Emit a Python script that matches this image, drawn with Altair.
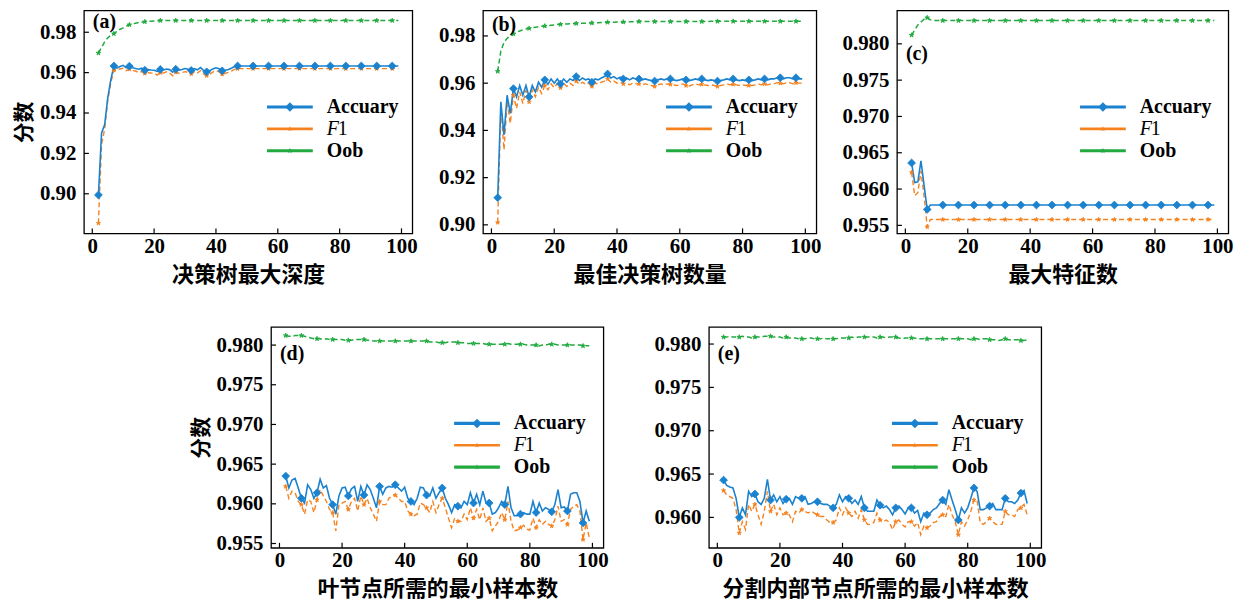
import altair as alt
import pandas as pd

SERIF = "Liberation Serif"
CJK = "Noto Sans CJK SC"
X_TICKS = [0, 20, 40, 60, 80, 100]
X_DOMAIN = [-2.7, 103.5]
COLORS = {"Accuary": "#1a82cf", "F1": "#f5821f", "Oob": "#22aa40"}
STAR = ("M0,-1L0.225,-0.31L0.951,-0.309L0.363,0.118L0.588,0.809L0,0.382"
        "L-0.588,0.809L-0.363,0.118L-0.951,-0.309L-0.225,-0.31Z")

# ---------------- (a) 决策树最大深度 ----------------
a_acc = [0.8994, 0.9300, 0.9342, 0.9474, 0.9565, 0.9633, 0.9622, 0.9630, 0.9636, 0.9624,
         0.9632, 0.9624, 0.9620, 0.9617, 0.9622, 0.9612, 0.9615, 0.9613, 0.9612, 0.9606,
         0.9616, 0.9613, 0.9618, 0.9615, 0.9602, 0.9617, 0.9612, 0.9615, 0.9620, 0.9617,
         0.9611, 0.9620, 0.9614, 0.9625, 0.9611, 0.9604, 0.9610, 0.9618, 0.9624, 0.9619,
         0.9609, 0.9612, 0.9616, 0.9622, 0.9630] + [0.9633] * 53
a_f1 = [0.8854, 0.9243, 0.9320, 0.9460, 0.9550, 0.9612, 0.9610, 0.9618, 0.9622, 0.9610,
        0.9617, 0.9610, 0.9608, 0.9600, 0.9605, 0.9596, 0.9600, 0.9598, 0.9597, 0.9588,
        0.9600, 0.9598, 0.9604, 0.9598, 0.9584, 0.9602, 0.9597, 0.9600, 0.9605, 0.9601,
        0.9594, 0.9604, 0.9598, 0.9610, 0.9593, 0.9585, 0.9592, 0.9603, 0.9610, 0.9604,
        0.9592, 0.9597, 0.9601, 0.9608, 0.9616] + [0.9620] * 53
a_oob = [0.9697, 0.9725, 0.9752, 0.9772, 0.9785, 0.9793, 0.9805, 0.9815, 0.9822, 0.9830,
         0.9837, 0.9841, 0.9845, 0.9848, 0.9850, 0.9852, 0.9854, 0.9855, 0.9856, 0.9857] + [0.9858] * 78

# ---------------- (b) 最佳决策树数量 ----------------
b_acc = [0.9115, 0.9521, 0.9381, 0.9549, 0.9472, 0.9577, 0.9542, 0.9590, 0.9549, 0.9590,
         0.9542, 0.9590, 0.9563, 0.9604, 0.9583, 0.9614, 0.9595, 0.9618, 0.9600, 0.9618,
         0.9597, 0.9618, 0.9604, 0.9618, 0.9611, 0.9628, 0.9611, 0.9622, 0.9614, 0.9618,
         0.9604, 0.9618, 0.9614, 0.9622, 0.9628, 0.9639, 0.9622, 0.9628, 0.9618, 0.9625,
         0.9618, 0.9622, 0.9614, 0.9622, 0.9618, 0.9618, 0.9614, 0.9618, 0.9614, 0.9611,
         0.9609, 0.9614, 0.9618, 0.9614, 0.9618, 0.9618, 0.9614, 0.9611, 0.9614, 0.9618,
         0.9614, 0.9611, 0.9614, 0.9618, 0.9614, 0.9618, 0.9614, 0.9611, 0.9614, 0.9611,
         0.9609, 0.9611, 0.9614, 0.9618, 0.9614, 0.9618, 0.9614, 0.9611, 0.9614, 0.9611,
         0.9614, 0.9611, 0.9614, 0.9618, 0.9614, 0.9618, 0.9614, 0.9618, 0.9618, 0.9623,
         0.9623, 0.9618, 0.9623, 0.9623, 0.9618, 0.9623, 0.9618, 0.9618]
b_f1 = [0.9010, 0.9500, 0.9318, 0.9521, 0.9430, 0.9549, 0.9493, 0.9563, 0.9514, 0.9570,
        0.9521, 0.9572, 0.9542, 0.9583, 0.9556, 0.9590, 0.9572, 0.9597, 0.9580, 0.9600,
        0.9580, 0.9600, 0.9586, 0.9600, 0.9590, 0.9609, 0.9595, 0.9604, 0.9595, 0.9600,
        0.9586, 0.9600, 0.9597, 0.9604, 0.9609, 0.9618, 0.9604, 0.9609, 0.9600, 0.9604,
        0.9597, 0.9600, 0.9593, 0.9600, 0.9597, 0.9597, 0.9593, 0.9597, 0.9593, 0.9590,
        0.9586, 0.9593, 0.9597, 0.9593, 0.9597, 0.9595, 0.9593, 0.9590, 0.9593, 0.9597,
        0.9590, 0.9588, 0.9593, 0.9597, 0.9593, 0.9595, 0.9593, 0.9590, 0.9593, 0.9590,
        0.9586, 0.9590, 0.9593, 0.9597, 0.9593, 0.9595, 0.9593, 0.9590, 0.9593, 0.9590,
        0.9590, 0.9590, 0.9593, 0.9597, 0.9593, 0.9597, 0.9593, 0.9597, 0.9597, 0.9602,
        0.9600, 0.9597, 0.9602, 0.9602, 0.9597, 0.9602, 0.9600, 0.9600]
b_oob = [0.9650, 0.9737, 0.9772, 0.9790, 0.9800, 0.9808, 0.9815, 0.9821, 0.9826, 0.9829,
         0.9832, 0.9835, 0.9837, 0.9839, 0.9841, 0.9842, 0.9844, 0.9845, 0.9846, 0.9848,
         0.9849, 0.9850, 0.9851, 0.9852, 0.9852, 0.9853, 0.9853, 0.9854, 0.9854, 0.9855,
         0.9855, 0.9856, 0.9856, 0.9857, 0.9857, 0.9858, 0.9858, 0.9858, 0.9859, 0.9859,
         0.9859, 0.9859, 0.9860, 0.9860, 0.9860] + [0.9861] * 23 + [0.9862] * 30

# ---------------- (c) 最大特征数 ----------------
c_acc = [0.9636, 0.9609, 0.9610, 0.9639, 0.9605, 0.9572] + [0.9578] * 92
c_f1 = [0.9623, 0.9591, 0.9595, 0.9625, 0.9590, 0.9548] + [0.9558] * 92
c_oob = [0.9812, 0.9819, 0.9826, 0.9830, 0.9834, 0.9836, 0.9833] + [0.9832] * 91

# ---------------- (d) 叶节点所需的最小样本数 ----------------
d_acc = [0.9635, 0.9620, 0.9630, 0.9632, 0.9620, 0.9607, 0.9601, 0.9624, 0.9618, 0.9607,
         0.9614, 0.9631, 0.9620, 0.9623, 0.9607, 0.9599, 0.9587, 0.9610, 0.9620, 0.9621,
         0.9610, 0.9619, 0.9622, 0.9603, 0.9622, 0.9611, 0.9624, 0.9618, 0.9607, 0.9595,
         0.9622, 0.9612, 0.9620, 0.9622, 0.9621, 0.9624, 0.9620, 0.9616, 0.9621, 0.9607,
         0.9603, 0.9599, 0.9607, 0.9621, 0.9620, 0.9611, 0.9610, 0.9620, 0.9607, 0.9614,
         0.9620, 0.9607, 0.9599, 0.9589, 0.9599, 0.9597, 0.9595, 0.9603, 0.9599, 0.9614,
         0.9601, 0.9612, 0.9599, 0.9616, 0.9601, 0.9601, 0.9587, 0.9589, 0.9595, 0.9603,
         0.9599, 0.9622, 0.9595, 0.9585, 0.9585, 0.9587, 0.9589, 0.9587, 0.9587, 0.9603,
         0.9589, 0.9601, 0.9591, 0.9595, 0.9593, 0.9590, 0.9599, 0.9618, 0.9595, 0.9596,
         0.9591, 0.9612, 0.9614, 0.9614, 0.9603, 0.9576, 0.9591, 0.9578]
d_f1 = [0.9622, 0.9607, 0.9616, 0.9614, 0.9603, 0.9599, 0.9587, 0.9605, 0.9603, 0.9589,
        0.9605, 0.9618, 0.9610, 0.9603, 0.9593, 0.9589, 0.9566, 0.9599, 0.9601, 0.9603,
        0.9593, 0.9603, 0.9607, 0.9591, 0.9610, 0.9599, 0.9607, 0.9595, 0.9587, 0.9578,
        0.9603, 0.9599, 0.9599, 0.9607, 0.9610, 0.9611, 0.9607, 0.9603, 0.9603, 0.9591,
        0.9587, 0.9585, 0.9587, 0.9601, 0.9599, 0.9595, 0.9589, 0.9603, 0.9589, 0.9599,
        0.9607, 0.9595, 0.9582, 0.9570, 0.9582, 0.9578, 0.9578, 0.9587, 0.9580, 0.9595,
        0.9582, 0.9593, 0.9580, 0.9595, 0.9578, 0.9582, 0.9566, 0.9572, 0.9578, 0.9589,
        0.9580, 0.9603, 0.9578, 0.9566, 0.9567, 0.9570, 0.9573, 0.9568, 0.9567, 0.9582,
        0.9570, 0.9580, 0.9574, 0.9578, 0.9574, 0.9572, 0.9580, 0.9597, 0.9578, 0.9580,
        0.9574, 0.9593, 0.9597, 0.9599, 0.9591, 0.9555, 0.9576, 0.9557]
d_oob = [0.9812, 0.9811, 0.9811, 0.9812, 0.9812, 0.9812, 0.9811, 0.9810, 0.9809, 0.9808,
         0.9808, 0.9808, 0.9807, 0.9808, 0.9807, 0.9807, 0.9807, 0.9807, 0.9807, 0.9806,
         0.9806, 0.9806, 0.9807, 0.9807, 0.9807, 0.9807, 0.9806, 0.9806, 0.9805, 0.9805,
         0.9805, 0.9805, 0.9805, 0.9805, 0.9805, 0.9805, 0.9805, 0.9805, 0.9805, 0.9805,
         0.9805, 0.9805, 0.9805, 0.9805, 0.9805, 0.9805, 0.9804, 0.9804, 0.9804, 0.9803,
         0.9803, 0.9803, 0.9804, 0.9804, 0.9804, 0.9803, 0.9803, 0.9803, 0.9802, 0.9802,
         0.9802, 0.9802, 0.9802, 0.9802, 0.9801, 0.9801, 0.9801, 0.9801, 0.9801, 0.9801,
         0.9801, 0.9802, 0.9801, 0.9801, 0.9801, 0.9801, 0.9801, 0.9800, 0.9800, 0.9800,
         0.9800, 0.9799, 0.9800, 0.9800, 0.9801, 0.9801, 0.9801, 0.9800, 0.9800, 0.9800,
         0.9800, 0.9800, 0.9800, 0.9800, 0.9800, 0.9799, 0.9799, 0.9799]

# ---------------- (e) 分割内部节点所需的最小样本数 ----------------
e_acc = [0.9643, 0.9637, 0.9635, 0.9634, 0.9622, 0.9600, 0.9611, 0.9603, 0.9630, 0.9624,
         0.9627, 0.9618, 0.9615, 0.9622, 0.9644, 0.9620, 0.9626, 0.9618, 0.9624, 0.9616,
         0.9621, 0.9622, 0.9615, 0.9624, 0.9622, 0.9622, 0.9624, 0.9615, 0.9616, 0.9618,
         0.9618, 0.9616, 0.9615, 0.9615, 0.9613, 0.9611, 0.9615, 0.9626, 0.9618, 0.9624,
         0.9622, 0.9616, 0.9620, 0.9615, 0.9624, 0.9611, 0.9607, 0.9607, 0.9607, 0.9620,
         0.9614, 0.9611, 0.9613, 0.9609, 0.9603, 0.9611, 0.9613, 0.9609, 0.9604, 0.9611,
         0.9611, 0.9605, 0.9608, 0.9595, 0.9605, 0.9603, 0.9605, 0.9609, 0.9611, 0.9616,
         0.9620, 0.9615, 0.9632, 0.9620, 0.9609, 0.9597, 0.9611, 0.9605, 0.9611, 0.9622,
         0.9634, 0.9630, 0.9609, 0.9609, 0.9611, 0.9613, 0.9616, 0.9609, 0.9609, 0.9609,
         0.9622, 0.9618, 0.9618, 0.9616, 0.9620, 0.9628, 0.9631, 0.9616]
e_f1 = [0.9631, 0.9626, 0.9624, 0.9622, 0.9609, 0.9582, 0.9595, 0.9586, 0.9615, 0.9607,
        0.9615, 0.9603, 0.9592, 0.9607, 0.9630, 0.9607, 0.9615, 0.9603, 0.9611, 0.9603,
        0.9605, 0.9603, 0.9595, 0.9607, 0.9605, 0.9609, 0.9607, 0.9605, 0.9607, 0.9605,
        0.9603, 0.9601, 0.9601, 0.9597, 0.9594, 0.9594, 0.9597, 0.9611, 0.9603, 0.9611,
        0.9605, 0.9601, 0.9607, 0.9599, 0.9609, 0.9597, 0.9592, 0.9592, 0.9594, 0.9605,
        0.9597, 0.9595, 0.9597, 0.9594, 0.9586, 0.9595, 0.9597, 0.9592, 0.9589, 0.9595,
        0.9595, 0.9590, 0.9594, 0.9580, 0.9590, 0.9588, 0.9590, 0.9594, 0.9595, 0.9601,
        0.9603, 0.9601, 0.9615, 0.9603, 0.9595, 0.9580, 0.9595, 0.9590, 0.9597, 0.9607,
        0.9620, 0.9620, 0.9594, 0.9592, 0.9595, 0.9599, 0.9595, 0.9592, 0.9592, 0.9592,
        0.9607, 0.9603, 0.9603, 0.9601, 0.9609, 0.9611, 0.9615, 0.9603]
e_oob = [0.9808, 0.9808, 0.9809, 0.9808, 0.9808, 0.9808, 0.9809, 0.9808, 0.9808, 0.9807,
         0.9808, 0.9808, 0.9808, 0.9809, 0.9809, 0.9809, 0.9808, 0.9808, 0.9808, 0.9807,
         0.9808, 0.9807, 0.9807, 0.9807, 0.9806, 0.9806, 0.9806, 0.9807, 0.9807, 0.9806,
         0.9806, 0.9806, 0.9807, 0.9806, 0.9806, 0.9806, 0.9806, 0.9807, 0.9807, 0.9807,
         0.9807, 0.9808, 0.9807, 0.9808, 0.9808, 0.9808, 0.9808, 0.9808, 0.9808, 0.9807,
         0.9808, 0.9808, 0.9807, 0.9808, 0.9808, 0.9808, 0.9807, 0.9806, 0.9807, 0.9807,
         0.9807, 0.9807, 0.9806, 0.9806, 0.9806, 0.9806, 0.9806, 0.9806, 0.9806, 0.9806,
         0.9806, 0.9806, 0.9806, 0.9806, 0.9806, 0.9806, 0.9806, 0.9806, 0.9806, 0.9805,
         0.9806, 0.9806, 0.9805, 0.9806, 0.9806, 0.9805, 0.9805, 0.9805, 0.9804, 0.9805,
         0.9806, 0.9805, 0.9805, 0.9805, 0.9805, 0.9804, 0.9804, 0.9805]


def make_df(acc, f1, oob):
    rows = []
    for name, vals in (("Accuary", acc), ("F1", f1), ("Oob", oob)):
        for i, v in enumerate(vals):
            rows.append({"x": 2 + i, "v": v, "s": name})
    return pd.DataFrame(rows)


ONE = pd.DataFrame({"k": [0]})


def panel(df, w, h, ydom, yticks, yfmt, xtitle, ytitle, tag, tag_y):
    xs = alt.Scale(domain=X_DOMAIN, nice=False, zero=False)
    ys = alt.Scale(domain=ydom, nice=False, zero=False)
    xax = alt.Axis(values=X_TICKS, title=xtitle, ticks=False, domain=False, grid=False,
                   labelFont=SERIF, labelFontSize=21, labelFontWeight="bold",
                   labelColor="black", labelPadding=2, labelFlush=False,
                   titleFont=CJK, titleFontSize=22, titleFontWeight="bold",
                   titleColor="black", titlePadding=8)
    yax = alt.Axis(values=yticks, format=yfmt, title=ytitle, ticks=False, domain=False,
                   grid=False, labelFont=SERIF, labelFontSize=21, labelFontWeight="bold",
                   labelColor="black", labelPadding=8, labelFlush=False,
                   titleFont=CJK, titleFontSize=21, titleFontWeight="bold",
                   titleColor="black", titlePadding=5)
    X = alt.X("x:Q", scale=xs, axis=xax)
    Y = alt.Y("v:Q", scale=ys, axis=yax)
    layers = []
    styles = [("Oob", [5, 3], 1.5), ("F1", [5, 3], 1.4), ("Accuary", None, 1.6)]
    for s, dash, sw in styles:
        kw = dict(color=COLORS[s], strokeWidth=sw, clip=True)
        if dash:
            kw["strokeDash"] = dash
        layers.append(
            alt.Chart(df).transform_filter(alt.datum.s == s).mark_line(**kw).encode(
                x=X, y=Y))
    marks = [("Oob", STAR, 24), ("F1", STAR, 20), ("Accuary", "diamond", 62)]
    for s, shape, size in marks:
        layers.append(
            alt.Chart(df).transform_filter(
                (alt.datum.s == s) & ((alt.datum.x - 2) % 5 == 0)
            ).mark_point(shape=shape, size=size, filled=True, color=COLORS[s],
                         opacity=1, strokeWidth=0.8, stroke=COLORS[s]).encode(
                x=X, y=Y))
    # inward ticks
    layers.append(alt.Chart(pd.DataFrame({"v": yticks})).mark_rule(
        color="black", strokeWidth=1.2).encode(
        y=Y, x=alt.value(0), x2=alt.value(5)))
    layers.append(alt.Chart(pd.DataFrame({"x": X_TICKS})).mark_rule(
        color="black", strokeWidth=1.2).encode(
        x=X, y=alt.value(h), y2=alt.value(h - 5)))
    # panel tag
    layers.append(alt.Chart(ONE).mark_text(
        align="left", baseline="middle", font=SERIF, fontSize=20,
        fontWeight="bold", color="black").encode(
        x=alt.value(9), y=alt.value(tag_y), text=alt.value(tag)))
    # legend
    leg = [("Accuary", "diamond", 90, 3.2, 97), ("F1", STAR, 32, 2.6, 119),
           ("Oob", STAR, 36, 3.2, 141)]
    for s, shape, size, sw, yy in leg:
        layers.append(alt.Chart(ONE).mark_rule(color=COLORS[s], strokeWidth=sw).encode(
            x=alt.value(184), x2=alt.value(230), y=alt.value(yy)))
        layers.append(alt.Chart(ONE).mark_point(
            shape=shape, size=size, filled=True, color=COLORS[s], opacity=1).encode(
            x=alt.value(207), y=alt.value(yy)))
    layers.append(alt.Chart(ONE).mark_text(
        align="left", baseline="middle", font=SERIF, fontSize=20,
        fontWeight="bold", color="black").encode(
        x=alt.value(244), y=alt.value(97), text=alt.value("Accuary")))
    layers.append(alt.Chart(ONE).mark_text(
        align="left", baseline="middle", font=SERIF, fontSize=20,
        fontStyle="italic", color="black").encode(
        x=alt.value(244), y=alt.value(119), text=alt.value("F")))
    layers.append(alt.Chart(ONE).mark_text(
        align="left", baseline="middle", font=SERIF, fontSize=20,
        color="black").encode(
        x=alt.value(255), y=alt.value(119), text=alt.value("1")))
    layers.append(alt.Chart(ONE).mark_text(
        align="left", baseline="middle", font=SERIF, fontSize=20,
        fontWeight="bold", color="black").encode(
        x=alt.value(244), y=alt.value(141), text=alt.value("Oob")))
    return alt.layer(*layers).properties(width=w, height=h)


T2 = [0.90, 0.92, 0.94, 0.96, 0.98]
T3c = [0.955, 0.960, 0.965, 0.970, 0.975, 0.980]
T3e = [0.960, 0.965, 0.970, 0.975, 0.980]

pa = panel(make_df(a_acc, a_f1, a_oob), 330, 224, [0.8804, 0.9908], T2, ".2f",
           "决策树最大深度", "分数", "(a)", 12)
pb = panel(make_df(b_acc, b_f1, b_oob), 335, 224, [0.8964, 0.9908], T2, ".2f",
           "最佳决策树数量", None, "(b)", 15)
pc = panel(make_df(c_acc, c_f1, c_oob), 333, 224, [0.9539, 0.9846], T3c, ".3f",
           "最大特征数", None, "(c)", 44)
pd_ = panel(make_df(d_acc, d_f1, d_oob), 334, 222, [0.95446, 0.98229], T3c, ".3f",
            "叶节点所需的最小样本数", "分数", "(d)", 27)
pe = panel(make_df(e_acc, e_f1, e_oob), 334, 222, [0.95649, 0.98198], T3e, ".3f",
           "分割内部节点所需的最小样本数", None, "(e)", 27)

top = alt.hconcat(pa, pb, pc, spacing=19)
bottom = alt.hconcat(pd_, pe, spacing=44)
chart = alt.vconcat(top, bottom, spacing=40, center=True).properties(
    padding={"left": 4, "top": 0, "right": 0, "bottom": 0},
    background="white",
).configure_view(stroke="black", strokeWidth=1.3)

chart.save("out.html", embed_options={"renderer": "svg", "actions": False})
